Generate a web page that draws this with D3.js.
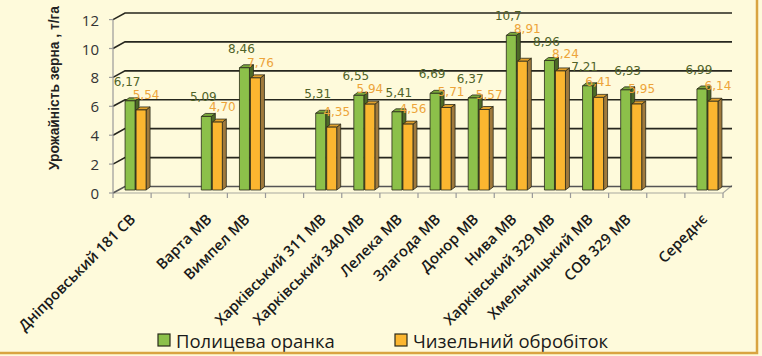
<!DOCTYPE html>
<html><head><meta charset="utf-8">
<script src="https://cdn.jsdelivr.net/npm/d3@7"></script>
<style>
html,body{margin:0;padding:0;background:#fefadb;}
svg{display:block;}
</style></head><body>
<svg id="chart" width="762" height="356"></svg>
<script>
const categories = ["Дніпровський 181 СВ", "", "Варта МВ", "Вимпел МВ", "", "Харківський 311 МВ", "Харківський 340 МВ", "Лелека МВ", "Злагода МВ", "Донор МВ", "Нива МВ", "Харківський 329 МВ", "Хмельницький МВ", "СОВ 329 МВ", "", "Середнє"];
const ploughing = [6.17, null, 5.09, 8.46, null, 5.31, 6.55, 5.41, 6.69, 6.37, 10.7, 8.96, 7.21, 6.93, null, 6.99];
const chisel = [5.54, null, 4.70, 7.76, null, 4.35, 5.94, 4.56, 5.71, 5.57, 8.91, 8.24, 6.41, 5.95, null, 6.14];
const seriesNames = ["Полицева оранка", "Чизельний обробіток"];
const yTicks = [0, 2, 4, 6, 8, 10, 12];
const yTitle = "Урожайність зерна , т/га";

const svg = d3.select("#chart");
const W = 762, H = 356;
svg.append("rect").attr("width", W).attr("height", H).attr("fill", "#fefadb");

const left = 113, right = 723;
const depthX = 12;
const x = d3.scaleBand().domain(d3.range(categories.length)).range([left, right]);
const yMid = d3.scaleLinear().domain([0, 12]).range([190, 16.6]);
const yFront = d3.scaleLinear().domain([0, 12]).range([193, 19.6]);
const yBack = d3.scaleLinear().domain([0, 12]).range([186.5, 13]);

// floor
svg.append("path")
  .attr("d", `M${left},${yFront(0)} L${right},${yFront(0)} L${right + 9},${yBack(0) - 1}`)
  .attr("fill", "none").attr("stroke", "#a8a8a0").attr("stroke-width", 1.2);

// gridlines (back wall) with diagonal from the front axis
const grid = svg.append("g");
yTicks.forEach(t => {
  grid.append("path")
    .attr("d", `M${left},${yFront(t)} L${left + depthX},${yBack(t)} L${732},${yBack(t)}`)
    .attr("fill", "none")
    .attr("stroke", t === 0 ? "#555" : "#26261e")
    .attr("stroke-width", 1.6);
});

// y axis
svg.append("line").attr("x1", left).attr("x2", left)
  .attr("y1", yFront(12)).attr("y2", yFront(0))
  .attr("stroke", "#999").attr("stroke-width", 1.2);
yTicks.forEach(t => {
  svg.append("line").attr("x1", left - 4).attr("x2", left)
    .attr("y1", yFront(t)).attr("y2", yFront(t))
    .attr("stroke", "#999").attr("stroke-width", 1.2);
  svg.append("text").attr("x", 99).attr("y", yFront(t))
    .attr("text-anchor", "end").attr("dominant-baseline", "central")
    .attr("font-family", "Open Sans, sans-serif").attr("font-size", 15)
    .attr("fill", "#333").text(t);
});

// x ticks
d3.range(categories.length + 1).forEach(i => {
  const xx = i < categories.length ? x(i) : right;
  svg.append("line").attr("x1", xx).attr("x2", xx)
    .attr("y1", yFront(0)).attr("y2", yFront(0) + 5)
    .attr("stroke", "#999").attr("stroke-width", 1.2);
});

// y title
svg.append("text")
  .attr("transform", "translate(59,170) rotate(-90)")
  .attr("text-anchor", "start")
  .attr("font-family", "Liberation Sans, Arial, sans-serif")
  .attr("font-weight", "bold").attr("font-size", 13.8)
  .attr("fill", "#222").text(yTitle);

// bars
const bw = 10, dx = 4, dy = 3;
const colors = [
  { front: "#8cc04a", top: "#7aa83c", side: "#4c6a26", label: "#4f6228" },
  { front: "#fbb630", top: "#e2a12c", side: "#a07a3c", label: "#eda43a" }
];
const series = [ploughing, chisel];
const base = yMid(0);
const barX = (i, s) => x(i) + (x.bandwidth() - 2 * bw) / 2 + 3 + s * bw + s;
const barsG = svg.append("g");
categories.forEach((c, i) => {
  series.forEach((vals, s) => {
    const v = vals[i];
    if (v == null) return;
    const x0 = barX(i, s);
    const y0 = yMid(v);
    const col = colors[s];
    const g = barsG.append("g").attr("stroke", "#2a2a1a").attr("stroke-width", 0.8).attr("stroke-linejoin", "round");
    g.append("path").attr("d", `M${x0 + bw},${y0} L${x0 + bw + dx},${y0 - dy} L${x0 + bw + dx},${base - dy} L${x0 + bw},${base} Z`).attr("fill", col.side);
    g.append("path").attr("d", `M${x0},${y0} L${x0 + dx},${y0 - dy} L${x0 + bw + dx},${y0 - dy} L${x0 + bw},${y0} Z`).attr("fill", col.top);
    g.append("rect").attr("x", x0).attr("y", y0).attr("width", bw).attr("height", base - y0).attr("fill", col.front);
  });
});

// data labels with simple collision handling
const fmt = v => d3.format(".3r")(v).replace(".", ",");
const labels = [];
categories.forEach((c, i) => {
  series.forEach((vals, s) => {
    const v = vals[i];
    if (v == null) return;
    const x0 = barX(i, s);
    labels.push({ i, s, v, cx: x0 + bw / 2 + (s === 0 ? -3 : 5), cy: yMid(v) - (s === 0 ? 19 : 15), w: 27, h: 12 });
  });
});
const hit = (a, b) => Math.abs(a.cx - b.cx) < (a.w + b.w) / 2 && Math.abs(a.cy - b.cy) < (a.h + b.h) / 2;
labels.forEach(a => {
  if (a.s !== 1) return;
  const nextG = labels.find(b => b.s === 0 && b.i === a.i + 1);
  const ownG = labels.find(b => b.s === 0 && b.i === a.i);
  if (nextG && hit(a, nextG)) {
    const upY = nextG.cy - 12.5;
    const trial = Object.assign({}, a, { cy: upY });
    if (!ownG || !hit(trial, ownG)) a.cy = upY;
    else {
      const ov = (a.w + nextG.w) / 2 - Math.abs(a.cx - nextG.cx);
      a.cx -= ov / 2 + 1;
      nextG.cx += ov / 2 + 1;
    }
  }
});
labels.forEach(l => {
  svg.append("text").attr("x", l.cx).attr("y", l.cy)
    .attr("text-anchor", "middle").attr("dominant-baseline", "central")
    .attr("font-family", "DejaVu Sans, sans-serif").attr("font-size", 12)
    .attr("fill", colors[l.s].label).text(fmt(l.v));
});

// x labels
categories.forEach((c, i) => {
  if (!c) return;
  const cx = x(i) + x.bandwidth() / 2;
  svg.append("text")
    .attr("transform", `translate(${cx},${216}) rotate(-45)`)
    .attr("text-anchor", "end").attr("dominant-baseline", "central")
    .attr("font-family", "Open Sans, sans-serif").attr("font-weight", 600).attr("font-size", 14.8)
    .attr("fill", "#1a1a1a").text(c);
});

// legend
const legX = [158, 395];
seriesNames.forEach((n, s) => {
  svg.append("rect").attr("x", legX[s]).attr("y", 334).attr("width", 12).attr("height", 12)
    .attr("fill", colors[s].front).attr("stroke", "#2a2a1a").attr("stroke-width", 1.2);
  svg.append("text").attr("x", legX[s] + 18).attr("y", 340)
    .attr("dominant-baseline", "central")
    .attr("font-family", "Open Sans, sans-serif").attr("font-size", 18.5)
    .attr("fill", "#1a1a1a").text(n);
});

// frame
svg.append("path").attr("d", `M0,${H - 3} L${W - 5},${H - 3} L${W - 5},0`)
  .attr("fill", "none").attr("stroke", "#d9a441").attr("stroke-width", 2.5);
</script>
</body></html>
